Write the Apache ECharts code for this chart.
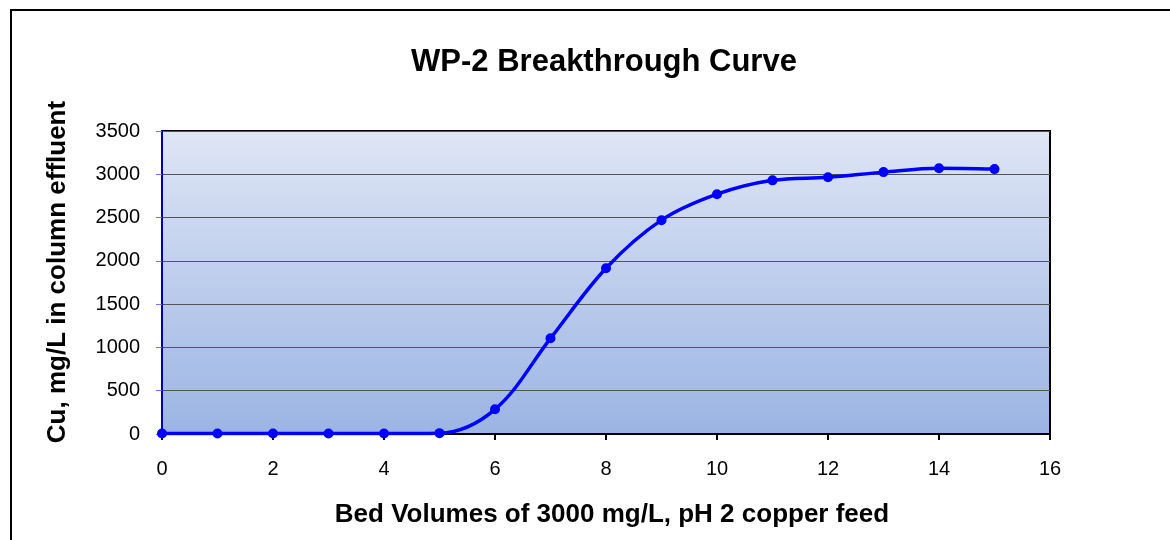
<!DOCTYPE html>
<html><head><meta charset="utf-8">
<script src="https://cdn.jsdelivr.net/npm/echarts@6/dist/echarts.min.js"></script>
<style>html,body{margin:0;padding:0;background:#fff}#c{width:1170px;height:540px}</style>
</head><body><div id="c"></div>
<script>
const bedVolumes = [0,1,2,3,4,5,6,7,8,9,10,11,12,13,14,15];
const cuValues = [5,5,5,5,5,10,285,1105,1915,2470,2770,2930,2965,3025,3070,3060];
const yTicks = {min:0, max:3500, interval:500};
const xTicks = {min:0, max:16, interval:2};
const titleText = 'WP-2 Breakthrough Curve';
const xName = 'Bed Volumes of 3000 mg/L, pH 2 copper feed';
const yName = 'Cu, mg/L in column effluent';

const chart = echarts.init(document.getElementById('c'));
const F = '"Liberation Sans", Arial, sans-serif';
chart.setOption({
  animation:false,
  graphic:[
    {type:'rect', shape:{x:11,y:10,width:1300,height:700}, style:{fill:null,stroke:'#000',lineWidth:2}, z:-10},
    {type:'text', x:604, y:62, style:{text:titleText, font:'bold 31px '+F, fill:'#000', textAlign:'center', textVerticalAlign:'middle'}},
    {type:'text', x:612, y:515, style:{text:xName, font:'bold 26px '+F, fill:'#000', textAlign:'center', textVerticalAlign:'middle'}},
    {type:'text', x:58, y:272, rotation:Math.PI/2, style:{text:yName, font:'bold 26px '+F, fill:'#000', textAlign:'center', textVerticalAlign:'middle'}}
  ],
  grid:{left:162, top:131, right:120, bottom:106, show:true, borderColor:'#000', borderWidth:2,
    backgroundColor:new echarts.graphic.LinearGradient(0,0,0,1,[{offset:0,color:'#dfe6f5'},{offset:1,color:'#9bb4e3'}])},
  xAxis:{type:'value', min:xTicks.min, max:xTicks.max, interval:xTicks.interval,
    axisLine:{show:true, onZero:false, lineStyle:{color:'#000', width:2}},
    axisTick:{show:true, length:6, lineStyle:{color:'#000', width:2}},
    axisLabel:{color:'#000', fontSize:20, fontFamily:F, margin:25},
    splitLine:{show:false}},
  yAxis:{type:'value', min:yTicks.min, max:yTicks.max, interval:yTicks.interval,
    axisLine:{show:true, lineStyle:{color:'#0000aa', width:2}},
    axisTick:{show:true, length:6, lineStyle:{color:'#7070ff', width:1}},
    axisLabel:{color:'#000', fontSize:20, fontFamily:F, margin:22, formatter:v=>String(v)},
    splitLine:{show:true, lineStyle:{color:'#555', width:1}}},
  series:[{type:'line', data:bedVolumes.map((x,i)=>[x,cuValues[i]]), smooth:0.35,
    symbol:'circle', symbolSize:10, lineStyle:{color:'#0000ff', width:3.5},
    itemStyle:{color:'#0000ff'}}]
});
</script></body></html>
